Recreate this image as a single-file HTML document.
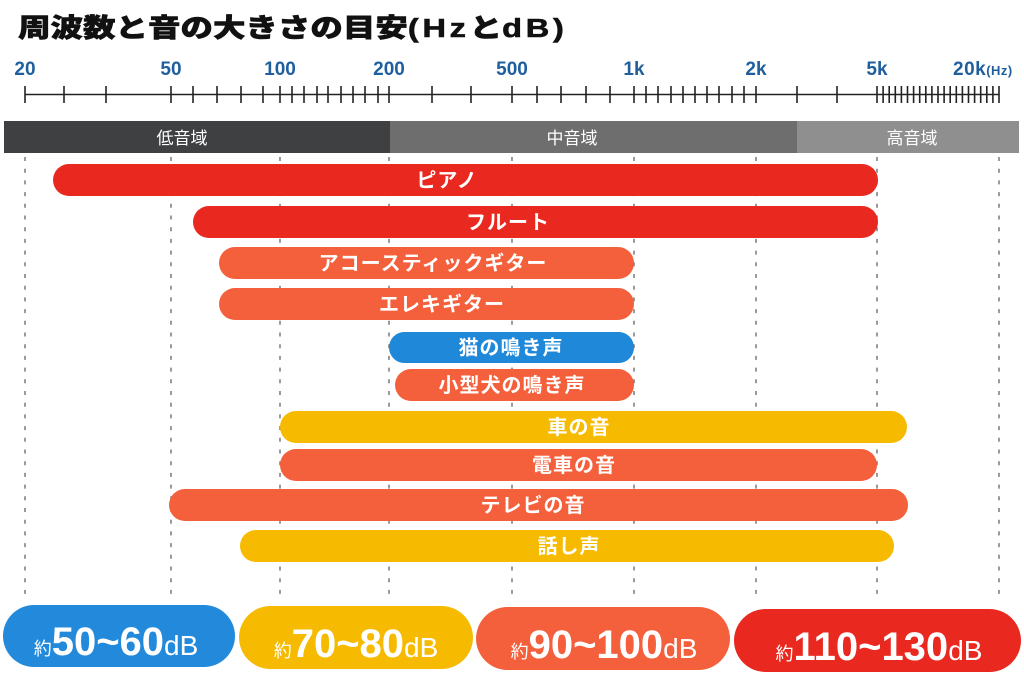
<!DOCTYPE html>
<html><head><meta charset="utf-8">
<style>
html,body{margin:0;padding:0;background:#fff;}
svg{display:block;}
text{font-family:"Liberation Sans","Noto Sans CJK JP",sans-serif;}
</style></head>
<body>
<svg width="1024" height="689" viewBox="0 0 1024 689" xmlns="http://www.w3.org/2000/svg">
<rect width="1024" height="689" fill="#fff"/>
<!-- title -->
<text transform="translate(18,37) scale(1.25,1)" font-size="26" font-weight="900" fill="#111" stroke="#111" stroke-width="0.6">周波数と音の大きさの目安<tspan letter-spacing="3">(Hz</tspan>と<tspan letter-spacing="3">dB)</tspan></text>

<!-- axis labels -->
<g font-size="19" font-weight="bold" fill="#1f5f9e" text-anchor="middle">
<text x="25" y="75">20</text>
<text x="171" y="75">50</text>
<text x="280" y="75">100</text>
<text x="389" y="75">200</text>
<text x="512" y="75">500</text>
<text x="634" y="75">1k</text>
<text x="756" y="75">2k</text>
<text x="877" y="75">5k</text>
</g>
<text x="953" y="75" font-size="19" font-weight="bold" fill="#1f5f9e" letter-spacing="0.5">20k<tspan font-size="13">(Hz)</tspan></text>

<!-- axis -->
<g stroke="#222" stroke-width="1.6">
<line x1="25" y1="94.5" x2="999" y2="94.5"/>
<path d="M25 86V103M64 86V103M106 86V103M171 86V103M193 86V103M217 86V103M241 86V103M263 86V103M280 86V103M292 86V103M304 86V103M317 86V103M328 86V103M341 86V103M353 86V103M365 86V103M378 86V103M389 86V103M432 86V103M471 86V103M512 86V103M537 86V103M561 86V103M586 86V103M610 86V103M634 86V103M646 86V103M658 86V103M671 86V103M683 86V103M695 86V103M707 86V103M719 86V103M732 86V103M744 86V103M756 86V103M797 86V103M837 86V103M877 86V103
M883.1 86V103M889.2 86V103M895.3 86V103M901.4 86V103M907.5 86V103M913.6 86V103M919.7 86V103M925.8 86V103M931.9 86V103M938 86V103M944.1 86V103M950.2 86V103M956.3 86V103M962.4 86V103M968.5 86V103M974.6 86V103M980.7 86V103M986.8 86V103M992.9 86V103M999 86V103"/>
</g>

<!-- bands -->
<rect x="4" y="121" width="386" height="32" fill="#3f4042"/>
<rect x="390" y="121" width="407" height="32" fill="#6e6e6e"/>
<rect x="797" y="121" width="222" height="32" fill="#8f8f8f"/>
<g font-size="17" fill="#fff" text-anchor="middle">
<text x="182" y="144">低音域</text>
<text x="572" y="144">中音域</text>
<text x="912" y="144">高音域</text>
</g>

<!-- grid -->
<g stroke="#707070" stroke-width="1.4" stroke-dasharray="4 7.7">
<line x1="25" y1="157" x2="25" y2="596"/>
<line x1="171" y1="157" x2="171" y2="596"/>
<line x1="280" y1="157" x2="280" y2="596"/>
<line x1="389" y1="157" x2="389" y2="596"/>
<line x1="512" y1="157" x2="512" y2="596"/>
<line x1="634" y1="157" x2="634" y2="596"/>
<line x1="756" y1="157" x2="756" y2="596"/>
<line x1="877" y1="157" x2="877" y2="596"/>
<line x1="999" y1="157" x2="999" y2="596"/>
</g>

<!-- bars -->
<rect x="53" y="164" width="825" height="32" rx="16" fill="#e9291f"/>
<rect x="193" y="206" width="685" height="32" rx="16" fill="#e9291f"/>
<rect x="219" y="247" width="415" height="32" rx="16" fill="#f4603c"/>
<rect x="219" y="288" width="415" height="32" rx="16" fill="#f4603c"/>
<rect x="389" y="332" width="245" height="31" rx="15.5" fill="#1f88d9"/>
<rect x="395" y="369" width="239" height="32" rx="16" fill="#f4603c"/>
<rect x="280" y="411" width="627" height="32" rx="16" fill="#f6bb00"/>
<rect x="280" y="449" width="597" height="32" rx="16" fill="#f4603c"/>
<rect x="169" y="489" width="739" height="32" rx="16" fill="#f4603c"/>
<rect x="240" y="530" width="654" height="32" rx="16" fill="#f6bb00"/>

<g font-size="20" font-weight="bold" fill="#fff" text-anchor="middle" letter-spacing="1">
<text x="447" y="187">ピアノ</text>
<text x="508" y="229">フルート</text>
<text x="433" y="270">アコースティックギター</text>
<text x="442" y="311">エレキギター</text>
<text x="511" y="354.5">猫の鳴き声</text>
<text x="512" y="392">小型犬の鳴き声</text>
<text x="579" y="434">車の音</text>
<text x="574" y="472">電車の音</text>
<text x="533" y="512">テレビの音</text>
<text x="569" y="553">話し声</text>
</g>

<!-- pills -->
<rect x="3" y="605" width="232" height="62" rx="31" fill="#2289db"/>
<rect x="239" y="606" width="234" height="63" rx="31.5" fill="#f6bb00"/>
<rect x="476" y="607" width="254" height="63" rx="31.5" fill="#f4603c"/>
<rect x="734" y="609" width="287" height="63" rx="31.5" fill="#e9291f"/>
<g fill="#fff" text-anchor="middle">
<text x="116" y="655"><tspan font-size="18">約</tspan><tspan font-size="40" font-weight="bold">50~60</tspan><tspan font-size="28">dB</tspan></text>
<text x="356" y="657"><tspan font-size="18">約</tspan><tspan font-size="40" font-weight="bold">70~80</tspan><tspan font-size="28">dB</tspan></text>
<text x="604" y="658"><tspan font-size="18">約</tspan><tspan font-size="40" font-weight="bold">90~100</tspan><tspan font-size="28">dB</tspan></text>
<text x="879" y="660"><tspan font-size="18">約</tspan><tspan font-size="40" font-weight="bold">110~130</tspan><tspan font-size="28">dB</tspan></text>
</g>
</svg>
</body></html>
